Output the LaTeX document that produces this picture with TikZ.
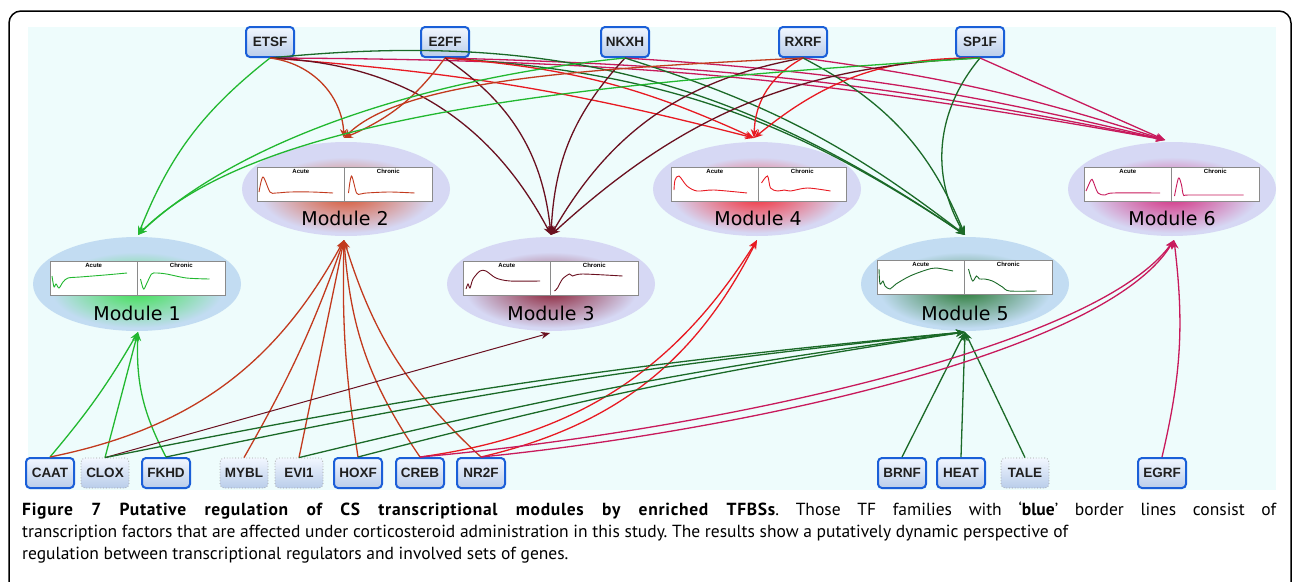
\documentclass[tikz,border=0pt]{standalone}
\usepackage{fontspec}
\setmainfont{Liberation Sans}
\newfontfamily\capfont{PT Sans}
\newfontfamily\modfont{DejaVu Sans}
\usetikzlibrary{arrows.meta}
\definecolor{bgc}{HTML}{EEFCFC}
\definecolor{cM1}{HTML}{22B830}
\definecolor{cM2}{HTML}{C23A1E}
\definecolor{cM3}{HTML}{6A1020}
\definecolor{cM4}{HTML}{E81A22}
\definecolor{cM5}{HTML}{1B6A28}
\definecolor{cM6}{HTML}{C81A5C}
\definecolor{gM1}{HTML}{3CE050}
\definecolor{gM2}{HTML}{D9532E}
\definecolor{gM3}{HTML}{8A1F35}
\definecolor{gM4}{HTML}{F52A35}
\definecolor{gM5}{HTML}{2A7A35}
\definecolor{gM6}{HTML}{D42A7E}
\definecolor{lavA}{HTML}{C2DCF2}
\definecolor{lavB}{HTML}{D6D8F4}
\definecolor{tfborder}{HTML}{1A5FD8}
\definecolor{tftop}{HTML}{F2F7FF}
\definecolor{tfbot}{HTML}{B9CDEA}
\definecolor{boxgray}{HTML}{8A8A8A}
\tikzset{
  tf/.style={rounded corners=4pt, draw=tfborder, line width=2pt, top color=tftop, bottom color=tfbot,
    minimum width=48pt, minimum height=30pt, inner sep=1pt,
    font=\fontsize{13.5}{15}\selectfont\bfseries, text=black!88},
  tfdot/.style={tf, draw=gray!75, line width=0.8pt, dotted},
  ptitle/.style={inner sep=0pt, font=\fontsize{6}{7}\selectfont\bfseries},
  pcurve/.style={line width=0.9pt},
  modlabel/.style={inner sep=0pt, font=\modfont\fontsize{19}{21}\selectfont, text=black},
  etip/.style={-{Stealth[length=9pt,width=7pt]}, line width=1.3pt},
  eM1/.style={etip, draw=cM1},
  eM2/.style={etip, draw=cM2},
  eM3/.style={etip, draw=cM3},
  eM4/.style={etip, draw=cM4},
  eM5/.style={etip, draw=cM5},
  eM6/.style={etip, draw=cM6},
}
\newcommand\modglow[4]{%
  \fill[#4] (#1,#2) ellipse [x radius=104pt, y radius=47pt];
  \shade[inner color=#3, outer color=#4] (#1,#2+6) ellipse [x radius=86pt, y radius=38pt];
}
\newcommand\modbox[6]{%
  \begin{scope}[shift={(#2,#3)}]
    \draw[draw=boxgray, fill=white, line width=0.8pt] (0,0) rectangle (175,34);
    \draw[boxgray, line width=0.8pt] (87.5,0) -- (87.5,34);
    \node[ptitle] (#1a) at (43.75,4.5) {Acute};
    \node[ptitle] (#1c) at (131.25,4.5) {Chronic};
    \draw[#4, pcurve] plot[smooth, tension=0.5] coordinates {#5};
    \begin{scope}[shift={(87.5,0)}]
      \draw[#4, pcurve] plot[smooth, tension=0.5] coordinates {#6};
    \end{scope}
  \end{scope}}
\newcommand\capbold[1]{{\bfseries\addfontfeature{LetterSpace=4}#1}}
\begin{document}
\begin{tikzpicture}[x=1pt,y=-1pt]
\useasboundingbox (0,0) rectangle (1292,581);
\fill[white] (0,0) rectangle (1292,581);
\draw[line width=1.5pt, rounded corners=12pt] (9,590) -- (9,11) -- (1291,11) -- (1291,590);
\fill[bgc] (28,27) rectangle (1276,490);

% glows
\modglow{137}{284}{gM1}{lavA}
\modglow{346}{189}{gM2}{lavB}
\modglow{551}{284}{gM3}{lavB}
\modglow{757}{189}{gM4}{lavB}
\modglow{965}{284}{gM5}{lavA}
\modglow{1172}{189}{gM6}{lavB}

% arrow tip coordinates
\coordinate (m1t) at (138,235); \coordinate (m1b) at (138,332);
\coordinate (m2t) at (344,138); \coordinate (m2b) at (344,240);
\coordinate (m3t) at (551,235); \coordinate (m3b) at (550,333);
\coordinate (m4t) at (754,138); \coordinate (m4b) at (757,240);
\coordinate (m5t) at (965,235); \coordinate (m5b) at (965,332);
\coordinate (m6t) at (1165,140); \coordinate (m6b) at (1174,240);

% TF nodes
\node[tf] (etsf) at (270,42) {ETSF};
\node[tf] (e2ff) at (445,42) {E2FF};
\node[tf] (nkxh) at (625,42) {NKXH};
\node[tf] (rxrf) at (803,42) {RXRF};
\node[tf] (sp1f) at (980,42) {SP1F};

\node[tf] (caat) at (50,473) {CAAT};
\node[tfdot] (clox) at (105,473) {CLOX};
\node[tf] (fkhd) at (166,473) {FKHD};
\node[tfdot] (mybl) at (244,473) {MYBL};
\node[tfdot] (evi1) at (299,473) {EVI1};
\node[tf] (hoxf) at (358,473) {HOXF};
\node[tf] (creb) at (420,473) {CREB};
\node[tf] (nr2f) at (481,473) {NR2F};
\node[tf] (brnf) at (902,473) {BRNF};
\node[tf] (heat) at (961,473) {HEAT};
\node[tfdot] (tale) at (1025,473) {TALE};
\node[tf] (egrf) at (1162,473) {EGRF};

% top edges
\draw[eM6] (etsf.south) to[bend left=5] (m6t);
\draw[eM6] (e2ff.south) to[bend left=5] (m6t);
\draw[eM6] (nkxh.south) to[bend left=5] (m6t);
\draw[eM6] (rxrf.south) to[bend left=5] (m6t);
\draw[eM6] (sp1f.south) to (m6t);
\draw[eM5] (etsf.south) to[bend left=20] (m5t);
\draw[eM5] (e2ff.south) to[bend left=15] (m5t);
\draw[eM5] (nkxh.south) to[bend left=10] (m5t);
\draw[eM5] (rxrf.south) to[bend left=20] (m5t);
\draw[eM5] (sp1f.south) to[bend right=35] (m5t);
\draw[eM4] (etsf.south) to[bend left=5] (m4t);
\draw[eM4] (e2ff.south) to[bend left=10] (m4t);
\draw[eM4] (rxrf.south) to[bend right=30] (m4t);
\draw[eM4] (sp1f.south) to[bend right=20] (m4t);
\draw[eM3] (etsf.south) to[bend left=30] (m3t);
\draw[eM3] (e2ff.south) to[bend left=25] (m3t);
\draw[eM3] (nkxh.south) to[bend right=20] (m3t);
\draw[eM3] (rxrf.south) to[bend right=25] (m3t);
\draw[eM3] (sp1f.south) to[bend right=20] (m3t);
\draw[eM2] (etsf.south) to[bend left=40] (m2t);
\draw[eM2] (e2ff.south) to[bend left=15] (m2t);
\draw[eM2] (rxrf.south) .. controls +(-200,10) and +(60,-60) .. (m2t);
\draw[eM1] (etsf.south) to[bend right=15] (m1t);
\draw[eM1] (nkxh.south) .. controls +(-200,20) and +(100,-95) .. (m1t);
\draw[eM1] (sp1f.south) .. controls +(-400,25) and +(120,-120) .. (m1t);

% bottom edges
\draw[eM1] (caat.north) to[bend right=5] (m1b);
\draw[eM1] (clox.north) to (m1b);
\draw[eM1] (fkhd.north) to[bend left=15] (m1b);
\draw[eM2] (caat.north) to[bend right=25] (m2b);
\draw[eM2] (mybl.north) to[bend right=5] (m2b);
\draw[eM2] (evi1.north) to (m2b);
\draw[eM2] (hoxf.north) to[bend left=5] (m2b);
\draw[eM2] (creb.north) to[bend left=15] (m2b);
\draw[eM2] (nr2f.north) to[bend left=15] (m2b);
\draw[eM3, line width=1pt] (clox.north) to (m3b);
\draw[eM4] (creb.north) to[bend right=25] (m4b);
\draw[eM4] (nr2f.north) to[bend right=25] (m4b);
\draw[eM5] (clox.north) to[bend left=3] (m5b);
\draw[eM5] (fkhd.north) to[bend left=3] (m5b);
\draw[eM5] (evi1.north) to[bend left=3] (m5b);
\draw[eM5] (hoxf.north) to[bend left=3] (m5b);
\draw[eM5] (brnf.north) to (m5b);
\draw[eM5] (heat.north) to (m5b);
\draw[eM5] (tale.north) to (m5b);
\draw[eM6] (creb.north) .. controls +(280,-25) and +(-80,110) .. (m6b);
\draw[eM6] (nr2f.north) .. controls +(250,-25) and +(-70,115) .. (m6b);
\draw[eM6] (egrf.north) to[bend right=10] (m6b);

% module boxes
\modbox{m1}{50}{261}{cM1}{(2,15) (4,26) (6,23) (9,27) (13,21) (18,17) (30,16) (55,14) (77,12)}{(3,18) (6,28) (9,23) (14,13) (19,12) (29,13) (49,17) (72,18)}
\modbox{m2}{257}{167}{cM2}{(2,25) (6,10) (13,25) (19,26) (33,25) (55,25) (76,26)}{(4,26) (7,9) (12,26) (16,27) (22,26) (45,25) (70,26)}
\modbox{m3}{463}{261}{cM3}{(3,28) (5,23) (7,27) (10,18) (17,10) (23,10) (33,17) (47,20) (77,20)}{(4,30) (7,27) (12,18) (19,13) (22,15) (32,13) (72,15)}
\modbox{m4}{671}{167}{cM4}{(3,23) (4,13) (8,9) (16,19) (26,24) (43,23) (76,26)}{(3,16) (9,9) (12,21) (19,24) (26,23) (32,24) (49,21) (72,24)}
\modbox{m5}{877}{260}{cM5}{(2,9) (3,24) (6,21) (8,26) (13,29) (19,24) (33,16) (49,10) (59,8) (76,11)}{(4,9) (8,21) (12,16) (15,19) (20,19) (28,21) (38,27) (45,31) (72,31)}
\modbox{m6}{1084}{167}{cM6}{(2,24) (7,13) (9,14) (14,26) (21,28) (29,26) (76,26)}{(3,29) (7,11) (10,18) (12,28) (18,28) (72,28)}

\node[modlabel] (m1l) at (137,313) {Module 1};
\node[modlabel] (m2l) at (345,218) {Module 2};
\node[modlabel] (m3l) at (551,313) {Module 3};
\node[modlabel] (m4l) at (758,218) {Module 4};
\node[modlabel] (m5l) at (965,313) {Module 5};
\node[modlabel] (m6l) at (1172,218) {Module 6};

% caption
\begin{scope}[every node/.style={anchor=base west, inner sep=0pt, font=\capfont\fontsize{17.5}{20}\selectfont\frenchspacing}]
\node (cap1) at (22,515) {\makebox[1254pt][s]{\capbold{Figure 7 Putative regulation of CS transcriptional modules by enriched TFBSs}. Those TF families with ‘\textbf{blue}’ border lines consist of}};
\node (cap2) at (22,537) {transcription factors that are affected under corticosteroid administration in this study. The results show a putatively dynamic perspective of};
\node (cap3) at (22,559) {regulation between transcriptional regulators and involved sets of genes.};
\end{scope}
\end{tikzpicture}
\end{document}
